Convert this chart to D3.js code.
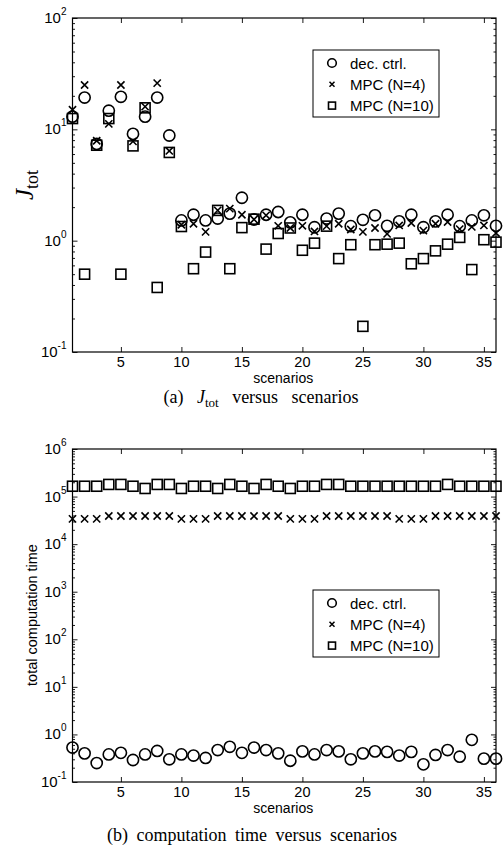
<!DOCTYPE html>
<html><head><meta charset="utf-8">
<script src="https://cdn.jsdelivr.net/npm/d3@7"></script>
<style>body{margin:0;background:#fff}</style>
</head><body>
<svg id="c" width="503" height="852"></svg>
<script>
const scenarios = [1,2,3,4,5,6,7,8,9,10,11,12,13,14,15,16,17,18,19,20,21,22,23,24,25,26,27,28,29,30,31,32,33,34,35,36];
const jDec   = [13,19.3,7.4,14.7,19.6,9.1,13,19.3,8.8,1.52,1.71,1.52,1.58,1.75,2.43,1.55,1.71,1.81,1.46,1.71,1.32,1.58,1.75,1.35,1.54,1.69,1.36,1.49,1.71,1.32,1.49,1.71,1.35,1.52,1.69,1.36];
const jMpc4  = [15,25,7.9,11.2,25,7.8,16,26,6.4,1.39,1.42,1.2,1.87,1.94,1.71,1.55,1.69,1.36,1.30,1.36,1.21,1.35,1.42,1.26,1.2,1.30,1.15,1.37,1.44,1.23,1.42,1.47,1.27,1.33,1.37,1.17];
const jMpc10 = [12.5,0.5,7.2,12.5,0.5,7.1,15.6,0.38,6.2,1.34,0.56,0.79,1.87,0.56,1.31,1.56,0.84,1.16,1.30,0.82,0.95,1.35,0.69,0.92,0.17,0.92,0.93,0.95,0.62,0.69,0.81,0.93,1.07,0.55,1.02,0.97];
const tDec   = [0.53,0.40,0.25,0.38,0.41,0.29,0.38,0.45,0.30,0.38,0.36,0.32,0.47,0.55,0.41,0.53,0.47,0.40,0.28,0.44,0.38,0.47,0.44,0.30,0.40,0.44,0.43,0.36,0.43,0.235,0.37,0.47,0.34,0.77,0.31,0.31];
const tMpc4  = [34000,34000,34000,39000,39000,39000,39000,39000,39000,34000,34000,34000,39000,39000,39000,39000,39000,39000,34000,34000,34000,39000,39000,39000,39000,39000,39000,34000,34000,34000,39000,39000,39000,39000,39000,39000];
const tMpc10 = [165000,165000,165000,180000,180000,165000,148000,180000,180000,148000,165000,165000,148000,180000,165000,148000,180000,165000,148000,165000,165000,180000,180000,165000,165000,165000,165000,165000,165000,165000,165000,180000,165000,165000,165000,165000];
const xTicks = [5,10,15,20,25,30,35];
const jDecades = [0.1,1,10,100];
const tDecades = [0.1,1,10,100,1000,10000,100000,1000000];
const legendLabels = ["dec. ctrl.","MPC (N=4)","MPC (N=10)"];

const svg = d3.select("#c");
const L = 72.5, R = 496;
const x = d3.scaleLinear().domain([1,36]).range([L,R]);
const SANS = "'Liberation Sans', Arial, Helvetica, sans-serif";
const SERIF = "'Liberation Serif', 'Times New Roman', serif";

function minors(decades){
  const m=[];
  for(let i=0;i<decades.length-1;i++) for(let k=2;k<=9;k++) m.push(decades[i]*k);
  return m;
}

function marker(g, type, cx, cy){
  if(type==="o"){
    g.append("circle").attr("cx",cx).attr("cy",cy).attr("r",5.6)
      .attr("fill","none").attr("stroke","#000").attr("stroke-width",1.6);
  } else if(type==="x"){
    const s=3.6;
    g.append("path").attr("d",`M${cx-s},${cy-s}L${cx+s},${cy+s}M${cx-s},${cy+s}L${cx+s},${cy-s}`)
      .attr("stroke","#000").attr("stroke-width",1.6).attr("fill","none");
  } else {
    const s=5;
    g.append("rect").attr("x",cx-s).attr("y",cy-s).attr("width",2*s).attr("height",2*s)
      .attr("fill","none").attr("stroke","#000").attr("stroke-width",1.6);
  }
}

function panel(cfg){
  const y = d3.scaleLog().domain(cfg.domain).range([cfg.bottom,cfg.top]);
  const g = svg.append("g");
  g.append("rect").attr("x",L).attr("y",cfg.top).attr("width",R-L).attr("height",cfg.bottom-cfg.top)
    .attr("fill","none").attr("stroke","#000").attr("stroke-width",1.2);
  const styleAxis = a => { a.select(".domain").remove(); a.selectAll("line").attr("stroke","#000").attr("stroke-width",0.9); };
  styleAxis(g.append("g").attr("transform",`translate(0,${cfg.bottom})`)
    .call(d3.axisBottom(x).tickValues(xTicks).tickSizeInner(-5).tickSizeOuter(0).tickFormat("")));
  styleAxis(g.append("g").attr("transform",`translate(0,${cfg.top})`)
    .call(d3.axisTop(x).tickValues(xTicks).tickSizeInner(-5).tickSizeOuter(0).tickFormat("")));
  [[d3.axisLeft,L],[d3.axisRight,R]].forEach(([ax,px])=>{
    styleAxis(g.append("g").attr("transform",`translate(${px},0)`)
      .call(ax(y).tickValues(cfg.decades).tickSizeInner(-5).tickSizeOuter(0).tickFormat("")));
    styleAxis(g.append("g").attr("transform",`translate(${px},0)`)
      .call(ax(y).tickValues(minors(cfg.decades)).tickSizeInner(-2.5).tickSizeOuter(0).tickFormat("")));
  });
  g.selectAll(".xl").data(xTicks).enter().append("text")
    .attr("x",d=>x(d)).attr("y",cfg.bottom+15).attr("text-anchor","middle")
    .attr("font-family",SANS).attr("font-size",14.5).text(d=>d);
  cfg.decades.forEach(d=>{
    const t = g.append("text").attr("x",L-6).attr("y",y(d)+5).attr("text-anchor","end")
      .attr("font-family",SANS).attr("font-size",15);
    t.append("tspan").text("10");
    t.append("tspan").attr("font-size",10).attr("dy",-8).text(Math.round(Math.log10(d)));
  });
  g.append("text").attr("x",(L+R)/2 - 1).attr("y",cfg.bottom+31).attr("text-anchor","middle")
    .attr("font-family",SANS).attr("font-size",14).text("scenarios");
  const series = [[cfg.s[0],"o"],[cfg.s[1],"x"],[cfg.s[2],"s"]];
  const dg = g.append("g");
  series.forEach(([vals,type])=>{
    scenarios.forEach((sc,i)=>marker(dg,type,x(sc),y(vals[i])));
  });
  const lg = g.append("g");
  lg.append("rect").attr("x",313).attr("y",cfg.legTop).attr("width",126).attr("height",67)
    .attr("fill","#fff").attr("stroke","#000").attr("stroke-width",1);
  legendLabels.forEach((lab,i)=>{
    const cy = cfg.legTop+13+i*21.3;
    const type = ["o","x","s"][i];
    if(type==="o") lg.append("circle").attr("cx",332).attr("cy",cy).attr("r",4.3).attr("fill","none").attr("stroke","#000").attr("stroke-width",1.6);
    else if(type==="x") lg.append("path").attr("d",`M${329.5},${cy-2.5}L${334.5},${cy+2.5}M${329.5},${cy+2.5}L${334.5},${cy-2.5}`).attr("stroke","#000").attr("stroke-width",1.5);
    else lg.append("rect").attr("x",328.5).attr("y",cy-3.5).attr("width",7).attr("height",7).attr("fill","none").attr("stroke","#000").attr("stroke-width",1.6);
    lg.append("text").attr("x",350).attr("y",cy+5.5).attr("font-family",SANS).attr("font-size",15).text(lab);
  });
  return g;
}

panel({domain:[0.1,100], top:18, bottom:352, decades:jDecades, s:[jDec,jMpc4,jMpc10], legTop:50});
panel({domain:[0.1,1e6], top:449, bottom:782, decades:tDecades, s:[tDec,tMpc4,tMpc10], legTop:590});

const jl = svg.append("text").attr("transform","translate(33,185) rotate(-90)").attr("text-anchor","middle")
  .attr("font-family",SERIF).attr("font-size",25);
jl.append("tspan").attr("font-style","italic").text("J");
jl.append("tspan").attr("font-size",18).attr("dy",5).text("tot");
svg.append("text").attr("transform","translate(37,615) rotate(-90)").attr("text-anchor","middle")
  .attr("font-family",SANS).attr("font-size",14.5).text("total computation time");

const ca = svg.append("text").attr("x",261).attr("y",403).attr("text-anchor","middle")
  .attr("font-family",SERIF).attr("font-size",18).attr("word-spacing",9);
ca.append("tspan").text("(a) ");
ca.append("tspan").attr("font-style","italic").text("J");
ca.append("tspan").attr("font-size",13).attr("dy",4).text("tot");
ca.append("tspan").attr("dy",-4).text(" versus scenarios");
svg.append("text").attr("x",252).attr("y",841).attr("text-anchor","middle")
  .attr("font-family",SERIF).attr("font-size",18).attr("word-spacing",4)
  .text("(b) computation time versus scenarios");
</script>
</body></html>
